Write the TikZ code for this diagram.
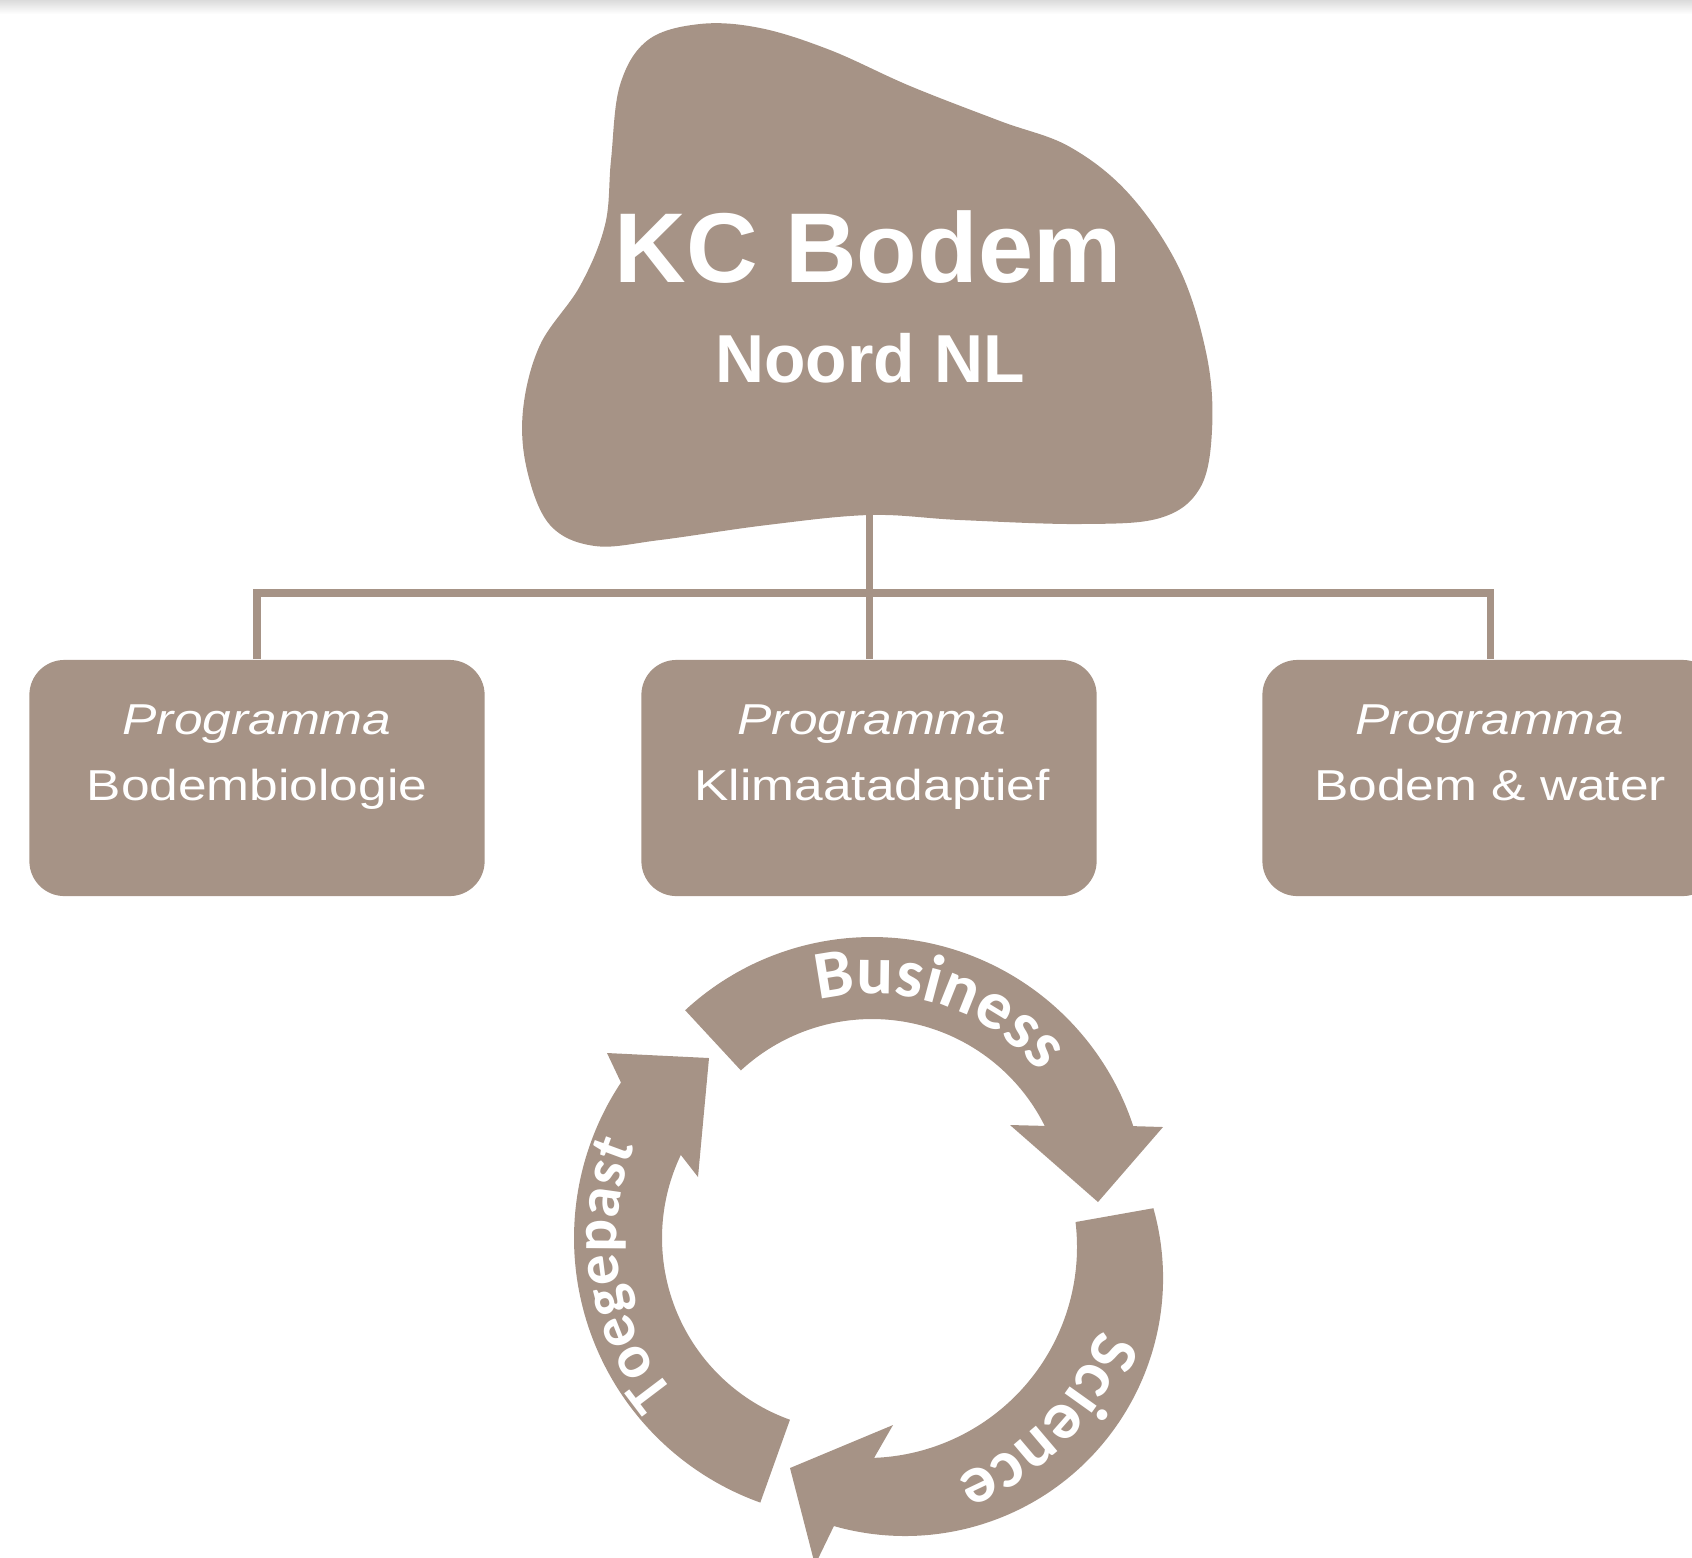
\documentclass[tikz,border=0pt]{standalone}
\usepackage{fontspec}
\setmainfont{Liberation Sans}
\newfontfamily\titlefont{Liberation Sans}
\newfontfamily\progfont[FakeStretch=1.19]{Liberation Sans}
\newfontfamily\cyclefont{Carlito}
\newcommand\cyclestyle{\cyclefont\bfseries\fontsize{19.5}{19.5}\selectfont}
\newcommand\cyclestylesmall{\cyclefont\bfseries\fontsize{17.5}{17.5}\selectfont}
\usetikzlibrary{calc,decorations.text}
\definecolor{soil}{RGB}{166,147,134}

\begin{document}
\begin{tikzpicture}[x=0.01cm,y=0.01cm,
  link/.style={draw=soil,line width=2pt},
  prog/.style={fill=soil,rounded corners=0.35cm,minimum width=4.55cm,minimum height=2.36cm,inner sep=0pt},
  progtext/.style={text=white,align=center,inner sep=0pt,anchor=base,font=\progfont\fontsize{12.3}{18.5}\selectfont},
  cycletext/.style={decorate,decoration={text along path,text color=white,text align=center,text={#1}}}]
\useasboundingbox (0,0) rectangle (1692,-1557);
\clip (0,0) rectangle (1692,-1557);
\shade[top color=black!14,bottom color=white] (0,0) rectangle (1692,-14);%bord

% kennis centrum
\fill[soil] plot[smooth cycle,tension=0.6] coordinates {(700,-24) (760,-28) (830,-50) (910,-86) (1000,-121) (1070,-147) (1130,-195) (1180,-270) (1207,-357) (1212,-430) (1200,-488) (1160,-518) (1080,-524) (960,-520) (870,-515) (767,-525) (660,-540) (595,-546) (550,-525) (527,-470) (523,-410) (540,-345) (580,-286) (605,-225) (611,-160) (620,-85) (648,-40)};
\node[text=white,inner sep=0pt,anchor=base,font=\titlefont\bfseries\fontsize{28.2}{30}\selectfont] (kc) at (868,-282) {KC Bodem};
\node[text=white,inner sep=0pt,anchor=base,font=\titlefont\bfseries\fontsize{19.3}{21}\selectfont] (noord) at (870,-382) {Noord NL};

% programma's
\node[prog] (bio) at (257,-778) {};
\node[prog] (klim) at (869,-778) {};
\node[prog] (water) at (1490,-778) {};
\node[progtext] (biotxt) at (257,-800) {\textit{Programma}\\Bodembiologie};
\node[progtext] (klimtxt) at (872,-800) {\textit{Programma}\\Klimaatadaptief};
\node[progtext] (watertxt) at (1490,-800) {\textit{Programma}\\Bodem \& water};

\coordinate (kcfoot) at (869,-505);
\coordinate (split) at (869,-593);
\draw[link] (kcfoot) -- (klim.north);
\draw[link] (bio.north) |- (split) -| (water.north);

% kringloop
\coordinate (cB) at (872,-1212);
\coordinate (cT) at (855,-1238);
\coordinate (cSi) at (866,-1247);
\coordinate (cSo) at (905,-1278);

\fill[soil] ($(cB)+(132.8:275)$) arc[start angle=132.8,end angle=18.2,radius=275] -- (1163,-1127) -- (1098,-1202) -- (1010,-1125) -- ($(cB)+(26.5:193)$) arc[start angle=26.5,end angle=132.8,radius=193] -- cycle;
\fill[soil] ($(cSo)+(15.7:258)$) arc[start angle=15.7,end angle=-106,radius=258] -- (815,-1565) -- (790,-1468) -- (893,-1425) -- ($(cSi)+(-87.8:211)$) arc[start angle=-87.8,end angle=6.8,radius=211] -- cycle;
\fill[soil] ($(cT)+(250.3:281)$) arc[start angle=250.3,end angle=146.4,radius=281] -- (607,-1053) -- (709,-1058) -- (698,-1177) -- ($(cT)+(154.5:193)$) arc[start angle=154.5,end angle=250.3,radius=193] -- cycle;

\path[cycletext={|\cyclestyle|Business}] ($(cB)+(117:218)$) arc[start angle=117,end angle=27,radius=218];
\path[cycletext={|\cyclestyle|Science}] ($(cSi)+(-4:247)$) arc[start angle=-4,end angle=-84,radius=247];
\path[cycletext={|\cyclestylesmall|Toegepast}] ($(cT)+(229:238)$) arc[start angle=229,end angle=149,radius=238];
\end{tikzpicture}
\end{document}
